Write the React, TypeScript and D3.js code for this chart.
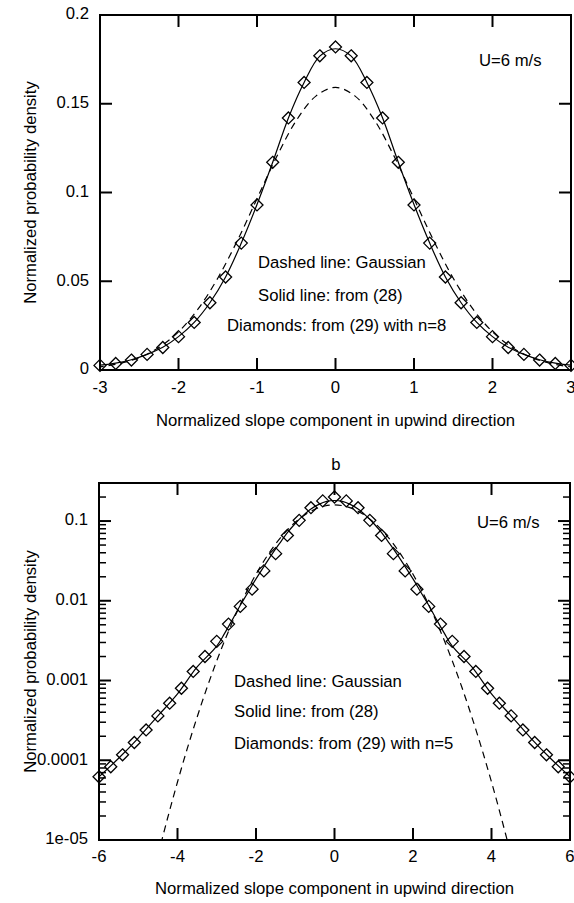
import React from "react";
import * as d3 from "d3";

// ---------- data ----------
// Gaussian (dashed), x >= 0, mirrored for x < 0
const gaussX = [0, 0.25, 0.5, 0.75, 1, 1.25, 1.5, 1.75, 2, 2.25, 2.5, 2.75, 3, 3.25, 3.5, 3.75, 4, 4.25, 4.5];
const gaussY = [0.1592, 0.1543, 0.1405, 0.1201, 0.0965, 0.0729, 0.0517, 0.0344, 0.0215, 0.01266, 0.00699, 0.003627, 0.001768, 0.00081, 0.000348, 0.0001407, 0.0000534, 0.000019, 0.0000064];

// Solid line: from (28), x >= 0
const solidX = [0, 0.2, 0.4, 0.6, 0.8, 1, 1.2, 1.4, 1.6, 1.8, 2, 2.2, 2.4, 2.6, 2.8, 3, 3.5, 4, 4.5, 5, 5.5, 6];
const solidY = [0.181, 0.1768, 0.162, 0.142, 0.117, 0.0932, 0.0715, 0.0524, 0.0379, 0.0268, 0.0188, 0.0128, 0.0088, 0.0058, 0.0039, 0.0027, 0.00148, 0.00068, 0.00036, 0.00019, 0.000106, 0.000062];

// Diamonds: from (29) with n=8 (panel a), x >= 0
const diamondAX = [0, 0.2, 0.4, 0.6, 0.8, 1, 1.2, 1.4, 1.6, 1.8, 2, 2.2, 2.4, 2.6, 2.8, 3];
const diamondAY = [0.182, 0.177, 0.162, 0.142, 0.117, 0.093, 0.0715, 0.0524, 0.0379, 0.0268, 0.0188, 0.0127, 0.0088, 0.0056, 0.0037, 0.0026];

// Diamonds: from (29) with n=5 (panel b), x >= 0
const diamondBX = [0, 0.3, 0.6, 0.9, 1.2, 1.5, 1.8, 2.1, 2.4, 2.7, 3, 3.3, 3.6, 3.9, 4.2, 4.5, 4.8, 5.1, 5.4, 5.7, 6];
const diamondBY = [0.2, 0.179, 0.147, 0.102, 0.066, 0.039, 0.0237, 0.014, 0.0085, 0.0051, 0.0031, 0.002, 0.0013, 0.0008, 0.00052, 0.00036, 0.00024, 0.000167, 0.000117, 0.000083, 0.000062];

const xTicksA = [-3, -2, -1, 0, 1, 2, 3];
const yTicksA = [0, 0.05, 0.1, 0.15, 0.2];
const yTickLabelsA = ["0", "0.05", "0.1", "0.15", "0.2"];

const xTicksB = [-6, -4, -2, 0, 2, 4, 6];
const yTicksB = [1e-5, 1e-4, 1e-3, 1e-2, 1e-1];
const yTickLabelsB = ["1e-05", "0.0001", "0.001", "0.01", "0.1"];

const legendA = ["Dashed line: Gaussian", "Solid line: from (28)", "Diamonds: from (29) with n=8"];
const legendB = ["Dashed line: Gaussian", "Solid line: from (28)", "Diamonds: from (29) with n=5"];
const xTitle = "Normalized slope component in upwind direction";
const yTitle = "Normalized probability density";
const speedLabel = "U=6 m/s";

// ---------- helpers ----------
type P = [number, number];
function mirror(xs: number[], ys: number[]): P[] {
  const out: P[] = [];
  for (let i = xs.length - 1; i > 0; i--) out.push([-xs[i], ys[i]]);
  for (let i = 0; i < xs.length; i++) out.push([xs[i], ys[i]]);
  return out;
}

const FONT = "'Liberation Sans', Arial, Helvetica, sans-serif";
const FS = 16.7;

function Diamond({ cx, cy, r = 6 }: { cx: number; cy: number; r?: number }) {
  return (
    <path
      d={`M${cx},${cy - r}L${cx + r},${cy}L${cx},${cy + r}L${cx - r},${cy}Z`}
      fill="none"
      stroke="#000"
      strokeWidth={1.3}
    />
  );
}

function Panel({
  id,
  x,
  y,
  xTicks,
  yTicks,
  yLabels,
  minorY,
  gauss,
  solid,
  diamonds,
  legend,
  legendPos,
  speedPos,
  xTickY,
  xTitleY,
}: any) {
  const [x0, x1] = x.range();
  const [yb, yt] = y.range();
  const line = d3
    .line<P>()
    .x((d) => x(d[0]))
    .y((d) => y(d[1]))
    .curve(d3.curveCatmullRom.alpha(0.5));
  const major = 12;
  const minor = 7;
  return (
    <g>
      <defs>
        <clipPath id={id}>
          <rect x={x0} y={yt} width={x1 - x0} height={yb - yt} />
        </clipPath>
      </defs>
      {/* curves */}
      <g clipPath={`url(#${id})`}>
        <path d={line(gauss) || ""} fill="none" stroke="#000" strokeWidth={1.2} strokeDasharray="7,5" />
        <path d={line(solid) || ""} fill="none" stroke="#000" strokeWidth={1.2} />
      </g>
      {diamonds.map((d: P, i: number) => (
        <Diamond key={i} cx={x(d[0])} cy={y(d[1])} />
      ))}
      {/* frame */}
      <rect x={x0} y={yt} width={x1 - x0} height={yb - yt} fill="none" stroke="#000" strokeWidth={2} />
      {/* x ticks */}
      {xTicks.map((t: number) => (
        <g key={"xt" + t}>
          <line x1={x(t)} x2={x(t)} y1={yb} y2={yb - major} stroke="#000" strokeWidth={2} />
          <line x1={x(t)} x2={x(t)} y1={yt} y2={yt + major} stroke="#000" strokeWidth={2} />
          <text x={x(t)} y={xTickY} textAnchor="middle" dominantBaseline="middle" fontFamily={FONT} fontSize={FS}>
            {String(t)}
          </text>
        </g>
      ))}
      {/* y ticks */}
      {yTicks.map((t: number, i: number) => (
        <g key={"yt" + t}>
          <line x1={x0} x2={x0 + major} y1={y(t)} y2={y(t)} stroke="#000" strokeWidth={2} />
          <line x1={x1} x2={x1 - major} y1={y(t)} y2={y(t)} stroke="#000" strokeWidth={2} />
          <text x={x0 - 11} y={y(t)} textAnchor="end" dominantBaseline="middle" fontFamily={FONT} fontSize={FS}>
            {yLabels[i]}
          </text>
        </g>
      ))}
      {minorY.map((t: number) => (
        <g key={"ym" + t}>
          <line x1={x0} x2={x0 + minor} y1={y(t)} y2={y(t)} stroke="#000" strokeWidth={1.5} />
          <line x1={x1} x2={x1 - minor} y1={y(t)} y2={y(t)} stroke="#000" strokeWidth={1.5} />
        </g>
      ))}
      {/* titles */}
      <text x={(x0 + x1) / 2} y={xTitleY} textAnchor="middle" dominantBaseline="middle" fontFamily={FONT} fontSize={FS}>
        {xTitle}
      </text>
      <text
        transform={`translate(32,${(yb + yt) / 2}) rotate(-90)`}
        textAnchor="middle"
        dominantBaseline="middle"
        fontFamily={FONT}
        fontSize={FS}
      >
        {yTitle}
      </text>
      <text x={speedPos[0]} y={speedPos[1]} dominantBaseline="middle" fontFamily={FONT} fontSize={FS}>
        {speedLabel}
      </text>
      {legend.map((s: string, i: number) => (
        <text
          key={"lg" + i}
          x={legendPos[i][0]}
          y={legendPos[i][1]}
          dominantBaseline="middle"
          fontFamily={FONT}
          fontSize={FS}
        >
          {s}
        </text>
      ))}
    </g>
  );
}

export default function App() {
  const xA = d3.scaleLinear().domain([-3, 3]).range([100, 571]);
  const yA = d3.scaleLinear().domain([0, 0.2]).range([370, 15]);
  const xB = d3.scaleLinear().domain([-6, 6]).range([99, 570]);
  const yB = d3.scaleLog().domain([1e-5, 0.3]).range([840, 483]);

  const gauss = mirror(gaussX, gaussY);
  const solid = mirror(solidX, solidY);
  const solidA = solid.filter((d) => Math.abs(d[0]) <= 3.51);
  const gaussA = gauss.filter((d) => Math.abs(d[0]) <= 3.51);
  const diamA = mirror(diamondAX, diamondAY);
  const diamB = mirror(diamondBX, diamondBY);

  const majorSet = new Set(yTicksB.map((v) => v.toExponential(3)));
  const minorB = yB
    .ticks()
    .filter((v: number) => !majorSet.has(v.toExponential(3)) && v < 0.299);

  return (
    <svg
      width={574}
      height={903}
      style={{ position: "absolute", left: 0, top: 0, background: "#fff" }}
    >
      <rect x={0} y={0} width={574} height={903} fill="#fff" />
      <Panel
        id="clipA"
        x={xA}
        y={yA}
        xTicks={xTicksA}
        yTicks={yTicksA}
        yLabels={yTickLabelsA}
        minorY={[]}
        gauss={gaussA}
        solid={solidA}
        diamonds={diamA}
        legend={legendA}
        legendPos={[
          [258, 264],
          [258, 297],
          [227, 327],
        ]}
        speedPos={[479, 62]}
        xTickY={389}
        xTitleY={422}
      />
      <text x={336} y={466} textAnchor="middle" dominantBaseline="middle" fontFamily={FONT} fontSize={FS}>
        b
      </text>
      <Panel
        id="clipB"
        x={xB}
        y={yB}
        xTicks={xTicksB}
        yTicks={yTicksB}
        yLabels={yTickLabelsB}
        minorY={minorB}
        gauss={gauss}
        solid={solid}
        diamonds={diamB}
        legend={legendB}
        legendPos={[
          [234, 683],
          [234, 713],
          [234, 745],
        ]}
        speedPos={[477, 524]}
        xTickY={858}
        xTitleY={890}
      />
    </svg>
  );
}
